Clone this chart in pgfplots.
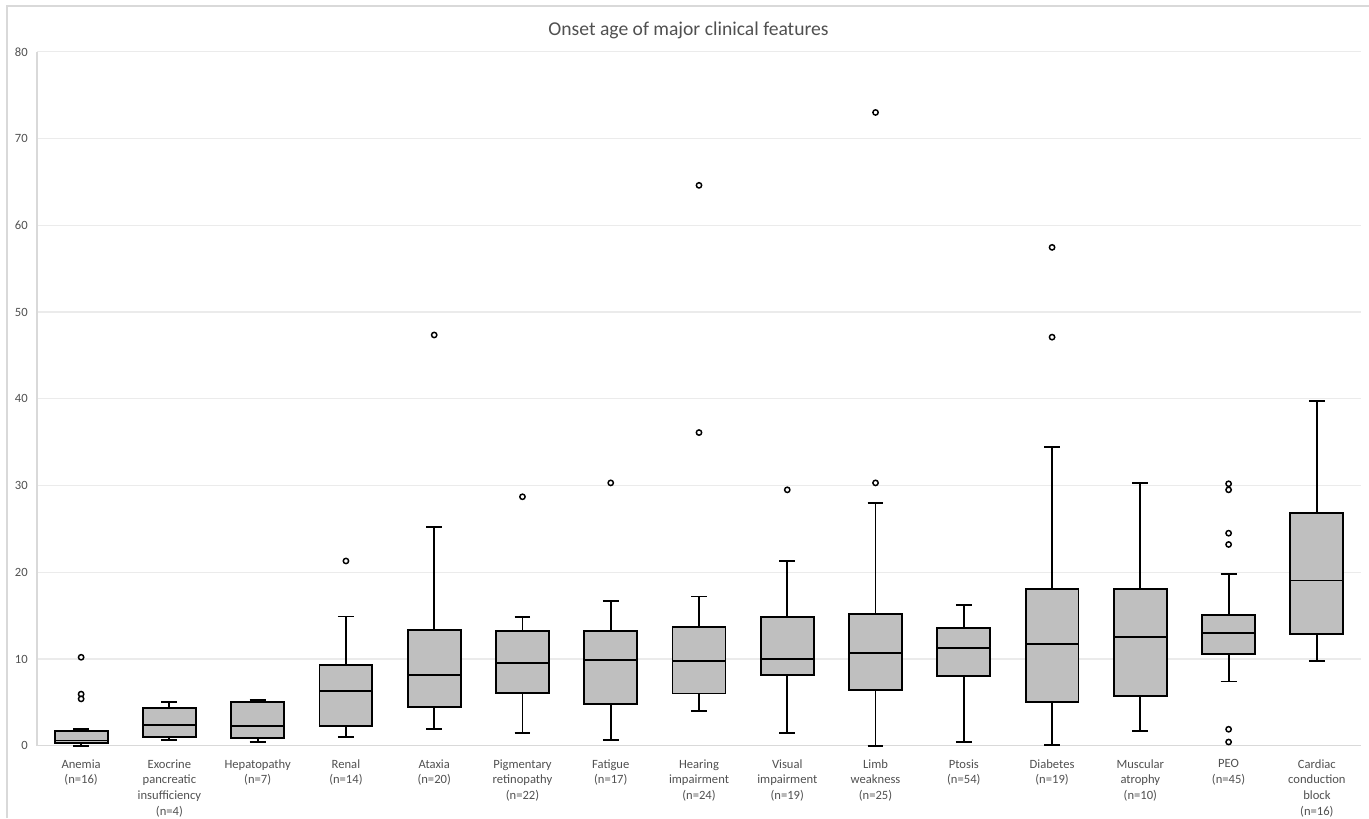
\documentclass[border=0pt]{standalone}
\usepackage{pgfplots}
\pgfplotsset{compat=1.18}
\usepgfplotslibrary{statistics}
\usepackage{fontspec}
\setmainfont{Carlito}
\definecolor{boxgray}{HTML}{BFBFBF}
\definecolor{txtgray}{HTML}{505050}
\definecolor{gridgray}{HTML}{EBEBEB}
\definecolor{axgray}{HTML}{D9D9D9}
\begin{document}
\begin{tikzpicture}
\path[use as bounding box] (0,0) rectangle (1026.75pt,-613.5pt);
\draw[axgray, line width=0.8pt] (5.25pt,-613.5pt) -- (5.25pt,-4.5pt) -- (1026.75pt,-4.5pt);
\begin{axis}[
  at={(27.75pt,-559.3pt)}, anchor=south west,
  scale only axis, width=993pt, height=520.5pt,
  xmin=-0.5, xmax=14.5, ymin=0, ymax=80,
  clip=false,
  axis x line*=bottom, axis y line*=left,
  axis line style={axgray, line width=0.8pt},
  ytick={0,10,...,80},
  xtick={0,...,14},
  xticklabels={{Anemia\\(n=16)},{Exocrine\\pancreatic\\insufficiency\\(n=4)},{Hepatopathy\\(n=7)},{Renal\\(n=14)},{Ataxia\\(n=20)},{Pigmentary\\retinopathy\\(n=22)},{Fatigue\\(n=17)},{Hearing\\impairment\\(n=24)},{Visual\\impairment\\(n=19)},{Limb\\weakness\\(n=25)},{Ptosis\\(n=54)},{Diabetes\\(n=19)},{Muscular\\atrophy\\(n=10)},{PEO\\(n=45)},{Cardiac\\conduction\\block\\(n=16)}},
  major tick length=0pt,
  ymajorgrids, major grid style={gridgray, line width=0.8pt},
  /pgf/number format/assume math mode=true,
  yticklabel style={font=\fontsize{9.45}{11.8}\selectfont, text=txtgray, inner sep=0pt, xshift=-6.75pt},
  xticklabel style={font=\fontsize{9.45}{11.8}\selectfont, text=txtgray, align=center, inner sep=0pt, yshift=-10pt},
  boxplot/draw direction=y,
  boxplot/box extend=0.6,
  boxplot/whisker extend=0.18,
  bx/.style={draw=black, fill=boxgray, line width=1.4pt, mark=*, mark size=2pt, mark options={fill=white, draw=black, line width=1.1pt}},
]
\addplot[bx, boxplot prepared={draw position=0, lower whisker=0, lower quartile=0.3, median=0.6, upper quartile=1.7, upper whisker=1.9}] table[row sep=\\, y index=0] {y\\10.2\\5.95\\5.4\\};
\addplot[bx, boxplot prepared={draw position=1, lower whisker=0.66, lower quartile=1.04, median=2.35, upper quartile=4.4, upper whisker=5.0}] coordinates {};
\addplot[bx, boxplot prepared={draw position=2, lower whisker=0.43, lower quartile=0.85, median=2.3, upper quartile=5.0, upper whisker=5.3}] coordinates {};
\addplot[bx, boxplot prepared={draw position=3, lower whisker=1.0, lower quartile=2.27, median=6.34, upper quartile=9.26, upper whisker=14.9}] table[row sep=\\, y index=0] {y\\21.3\\};
\addplot[bx, boxplot prepared={draw position=4, lower whisker=1.92, lower quartile=4.42, median=8.15, upper quartile=13.37, upper whisker=25.2}] table[row sep=\\, y index=0] {y\\47.35\\};
\addplot[bx, boxplot prepared={draw position=5, lower whisker=1.5, lower quartile=6.1, median=9.56, upper quartile=13.25, upper whisker=14.8}] table[row sep=\\, y index=0] {y\\28.7\\};
\addplot[bx, boxplot prepared={draw position=6, lower whisker=0.66, lower quartile=4.8, median=9.84, upper quartile=13.25, upper whisker=16.7}] table[row sep=\\, y index=0] {y\\30.3\\};
\addplot[bx, boxplot prepared={draw position=7, lower whisker=3.96, lower quartile=6.03, median=9.76, upper quartile=13.7, upper whisker=17.2}] table[row sep=\\, y index=0] {y\\64.6\\36.1\\};
\addplot[bx, boxplot prepared={draw position=8, lower whisker=1.5, lower quartile=8.2, median=10.0, upper quartile=14.8, upper whisker=21.3}] table[row sep=\\, y index=0] {y\\29.5\\};
\addplot[bx, boxplot prepared={draw position=9, lower whisker=0, lower quartile=6.45, median=10.7, upper quartile=15.2, upper whisker=28.0}] table[row sep=\\, y index=0] {y\\73.0\\30.3\\};
\addplot[bx, boxplot prepared={draw position=10, lower whisker=0.39, lower quartile=8.0, median=11.3, upper quartile=13.56, upper whisker=16.2}] coordinates {};
\addplot[bx, boxplot prepared={draw position=11, lower whisker=0.12, lower quartile=5.0, median=11.7, upper quartile=18.1, upper whisker=34.4}] table[row sep=\\, y index=0] {y\\57.45\\47.1\\};
\addplot[bx, boxplot prepared={draw position=12, lower whisker=1.7, lower quartile=5.73, median=12.5, upper quartile=18.1, upper whisker=30.3}] coordinates {};
\addplot[bx, boxplot prepared={draw position=13, lower whisker=7.4, lower quartile=10.6, median=13.0, upper quartile=15.1, upper whisker=19.75}] table[row sep=\\, y index=0] {y\\30.2\\29.5\\24.5\\23.2\\1.9\\0.43\\};
\addplot[bx, boxplot prepared={draw position=14, lower whisker=9.8, lower quartile=12.9, median=19.05, upper quartile=26.8, upper whisker=39.7}] coordinates {};
\end{axis}
\node[anchor=base, font=\fontsize{14.7}{17}\selectfont, text=txtgray] at (516.4pt,-26.8pt) {Onset age of major clinical features};
\end{tikzpicture}
\end{document}
